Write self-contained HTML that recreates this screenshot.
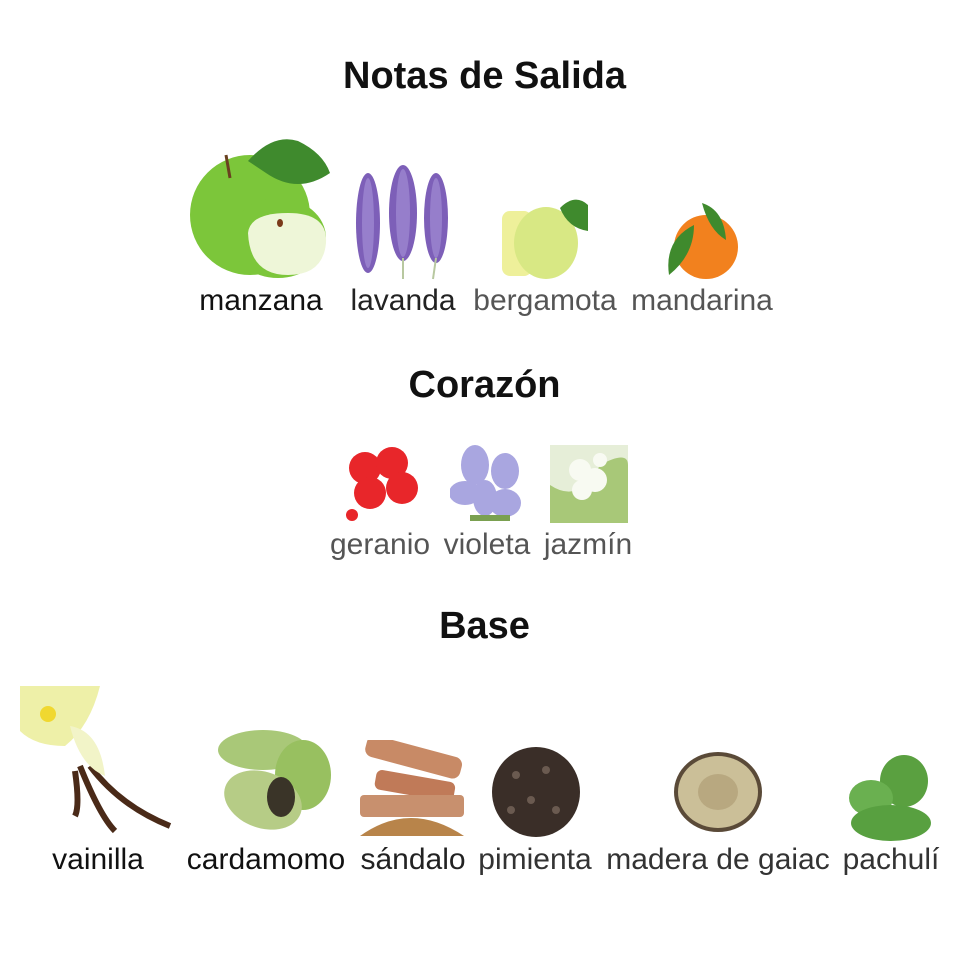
<!DOCTYPE html>
<html><head><meta charset="utf-8"><style>
html,body{margin:0;padding:0;background:#fff;width:969px;height:969px;overflow:hidden;position:relative;font-family:"Liberation Sans",Arial,sans-serif}
.t{position:absolute;font-weight:bold;font-size:38px;line-height:44px;color:#111;width:969px;text-align:center;left:0}
.l{position:absolute;font-size:30px;line-height:34px;white-space:nowrap;transform:translateX(-50%);top:0}
svg{position:absolute}
</style></head><body>
<div class="t" style="top:54px">Notas de Salida</div>
<div class="t" style="top:363px">Corazón</div>
<div class="t" style="top:604px">Base</div>

<!-- apple -->
<svg style="left:188px;top:133px" width="145" height="148">
<ellipse cx="62" cy="82" rx="60" ry="60" fill="#7cc63a"/>
<ellipse cx="90" cy="105" rx="48" ry="40" fill="#7cc63a"/>
<path d="M60 100 Q62 80 100 80 Q140 80 138 110 Q135 142 100 142 Q62 142 60 100Z" fill="#eef6d8"/>
<ellipse cx="92" cy="90" rx="3" ry="4" fill="#7a3a1a"/>
<path d="M60 28 Q85 0 110 8 Q135 20 142 40 Q110 62 78 40 Z" fill="#3f8a2d"/>
<line x1="38" y1="22" x2="42" y2="45" stroke="#6a4020" stroke-width="3"/>
</svg>
<!-- lavender -->
<svg style="left:348px;top:163px" width="112" height="118">
<g fill="#7d5fb8"><ellipse cx="20" cy="60" rx="12" ry="50"/><ellipse cx="55" cy="50" rx="14" ry="48"/><ellipse cx="88" cy="55" rx="12" ry="45"/></g>
<g fill="#a894d8" opacity=".6"><ellipse cx="20" cy="60" rx="6" ry="45"/><ellipse cx="55" cy="50" rx="7" ry="44"/><ellipse cx="88" cy="55" rx="6" ry="40"/></g>
<g stroke="#b8c8a0" stroke-width="2"><line x1="55" y1="95" x2="55" y2="116"/><line x1="88" y1="95" x2="85" y2="116"/></g>
</svg>
<!-- bergamot -->
<svg style="left:500px;top:193px" width="90" height="88">
<rect x="2" y="18" width="30" height="65" rx="8" fill="#eef09a"/>
<ellipse cx="46" cy="50" rx="32" ry="36" fill="#d8e884"/>
<path d="M60 15 Q75 0 88 12 L88 38 Q68 35 60 15Z" fill="#3f8a2d"/>
</svg>
<!-- mandarin -->
<svg style="left:664px;top:195px" width="84" height="86">
<circle cx="42" cy="52" r="32" fill="#f2811e"/>
<path d="M5 80 Q0 45 30 30 Q30 60 5 80Z" fill="#3f8a2d"/>
<path d="M38 8 Q60 15 62 45 Q45 35 38 8Z" fill="#3f8a2d"/>
</svg>
<div class="l" style="left:261px;top:284px;color:#111">manzana</div>
<div class="l" style="left:403px;top:284px;color:#222">lavanda</div>
<div class="l" style="left:545px;top:284px;color:#555">bergamota</div>
<div class="l" style="left:702px;top:284px;color:#555">mandarina</div>

<!-- geranium -->
<svg style="left:340px;top:443px" width="84" height="80">
<g fill="#e8262a"><circle cx="25" cy="25" r="16"/><circle cx="52" cy="20" r="16"/><circle cx="62" cy="45" r="16"/><circle cx="30" cy="50" r="16"/><circle cx="12" cy="72" r="6"/></g>
</svg>
<!-- violet -->
<svg style="left:450px;top:443px" width="76" height="80">
<g fill="#a9a6e0"><ellipse cx="25" cy="22" rx="14" ry="20"/><ellipse cx="55" cy="28" rx="14" ry="18"/><ellipse cx="15" cy="50" rx="16" ry="12"/><ellipse cx="55" cy="60" rx="16" ry="14"/><ellipse cx="35" cy="55" rx="12" ry="18"/></g>
<rect x="20" y="72" width="40" height="6" fill="#7aa050"/>
</svg>
<!-- jasmine -->
<svg style="left:550px;top:445px" width="78" height="78">
<rect width="78" height="78" fill="#e6eed8"/>
<path d="M50 20 Q78 5 78 20 L78 78 L0 78 L0 40 Q30 60 50 20Z" fill="#a8c878"/>
<g fill="#f8faf2"><circle cx="30" cy="25" r="11"/><circle cx="45" cy="35" r="12"/><circle cx="32" cy="45" r="10"/><circle cx="50" cy="15" r="7"/></g>
</svg>
<div class="l" style="left:380px;top:528px;color:#555">geranio</div>
<div class="l" style="left:487px;top:528px;color:#555">violeta</div>
<div class="l" style="left:588px;top:528px;color:#555">jazmín</div>

<!-- vanilla -->
<svg style="left:20px;top:686px" width="160" height="152">
<path d="M60 80 Q80 130 95 145 M70 80 Q100 120 150 140 M55 85 Q60 120 55 130" stroke="#4a2a18" stroke-width="6" fill="none"/>
<path d="M0 0 L80 0 Q70 40 45 60 Q15 60 0 45Z" fill="#eef0a8"/>
<path d="M50 40 Q80 45 85 90 Q60 80 50 40Z" fill="#f2f4c8"/>
<circle cx="28" cy="28" r="8" fill="#f0d830"/>
</svg>
<!-- cardamom -->
<svg style="left:203px;top:725px" width="128" height="108">
<ellipse cx="60" cy="25" rx="45" ry="20" fill="#a9c878"/>
<ellipse cx="100" cy="50" rx="28" ry="35" fill="#98c060"/>
<ellipse cx="60" cy="75" rx="40" ry="28" fill="#b6cc86" transform="rotate(20 60 75)"/>
<ellipse cx="78" cy="72" rx="14" ry="20" fill="#3a3428"/>
</svg>
<!-- sandalwood -->
<svg style="left:360px;top:740px" width="106" height="96">
<rect x="5" y="5" width="98" height="22" rx="8" fill="#c88a66" transform="rotate(15 50 15)"/>
<rect x="15" y="35" width="80" height="20" rx="6" fill="#c07a58" transform="rotate(10 50 45)"/>
<rect x="0" y="55" width="104" height="22" rx="4" fill="#c8906e"/>
<path d="M0 96 Q50 60 104 96Z" fill="#b8844a"/>
</svg>
<!-- pepper -->
<svg style="left:486px;top:740px" width="100" height="100">
<ellipse cx="50" cy="52" rx="44" ry="45" fill="#3a2e28"/>
<g fill="#6a5a50"><circle cx="30" cy="35" r="4"/><circle cx="60" cy="30" r="4"/><circle cx="45" cy="60" r="4"/><circle cx="70" cy="70" r="4"/><circle cx="25" cy="70" r="4"/></g>
</svg>
<!-- gaiac -->
<svg style="left:670px;top:750px" width="96" height="84">
<ellipse cx="48" cy="42" rx="44" ry="40" fill="#5a4a38"/>
<ellipse cx="48" cy="42" rx="40" ry="36" fill="#cbbf98"/>
<ellipse cx="48" cy="42" rx="20" ry="18" fill="#b8a880"/>
</svg>
<!-- patchouli -->
<svg style="left:846px;top:753px" width="90" height="88">
<ellipse cx="58" cy="28" rx="24" ry="26" fill="#5aa040"/>
<ellipse cx="25" cy="45" rx="22" ry="18" fill="#6ab050"/>
<ellipse cx="45" cy="70" rx="40" ry="18" fill="#58a040"/>
</svg>
<div class="l" style="left:98px;top:843px;color:#111">vainilla</div>
<div class="l" style="left:266px;top:843px;color:#111">cardamomo</div>
<div class="l" style="left:413px;top:843px;color:#222">sándalo</div>
<div class="l" style="left:535px;top:843px;color:#333">pimienta</div>
<div class="l" style="left:718px;top:843px;color:#333">madera de gaiac</div>
<div class="l" style="left:891px;top:843px;color:#333">pachulí</div>
</body></html>
